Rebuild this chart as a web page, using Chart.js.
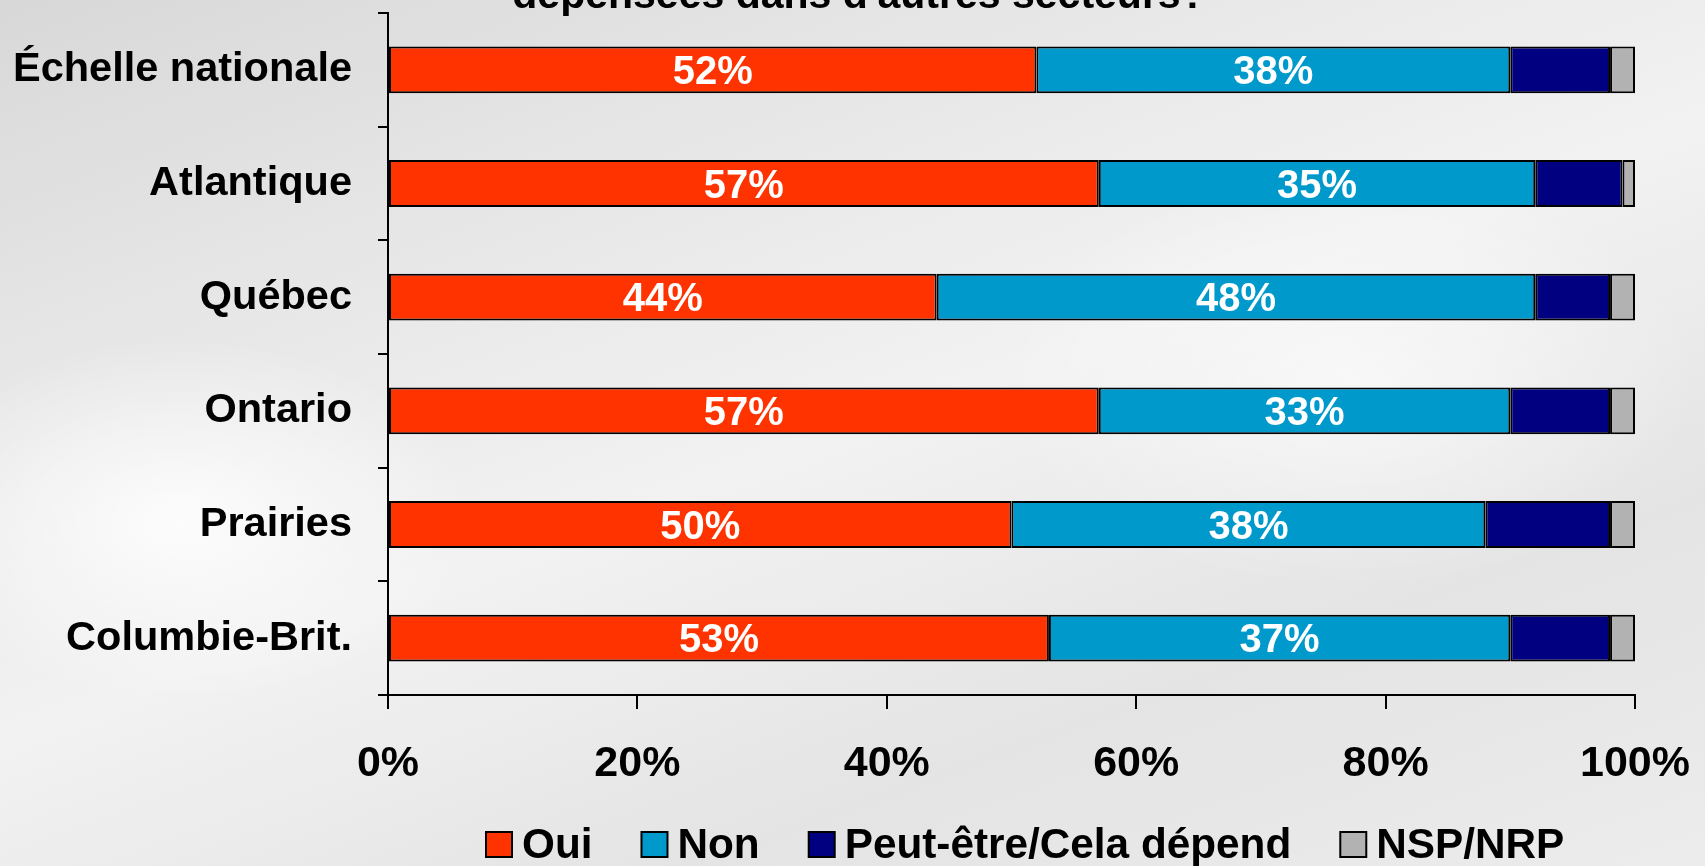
<!DOCTYPE html>
<html>
<head>
<meta charset="utf-8">
<script src="https://cdn.jsdelivr.net/npm/chart.js@4"></script>
<style>
  html, body { margin: 0; padding: 0; }
  body {
    width: 1705px; height: 866px; overflow: hidden;
    background:
      radial-gradient(ellipse 420px 260px at 180px 520px, rgba(255,255,255,0.85), rgba(255,255,255,0) 70%),
      radial-gradient(ellipse 500px 300px at 1350px 380px, rgba(255,255,255,0.6), rgba(255,255,255,0) 70%),
      linear-gradient(160deg, #d8d8d8 0%, #e6e6e6 25%, #f2f2f2 50%, #e4e4e4 75%, #ececec 100%);
  }
  canvas { display: block; }
</style>
</head>
<body>
<canvas id="c" width="1705" height="866"></canvas>
<script>
const categories = ['Échelle nationale', 'Atlantique', 'Québec', 'Ontario', 'Prairies', 'Columbie-Brit.'];
const seriesNames = ['Oui', 'Non', 'Peut-être/Cela dépend', 'NSP/NRP'];
const oui  = [52, 57, 44, 57, 50, 53];
const non  = [38, 35, 48, 33, 38, 37];
const peut = [8, 7, 6, 8, 10, 8];
const nsp  = [2, 1, 2, 2, 2, 2];
const xTickValues = [0, 20, 40, 60, 80, 100];
const seriesColors = ['#FF3300', '#0099CC', '#000080', '#B2B2B2'];
const labeledSeries = [0, 1];
const titleText = "dépensées dans d'autres secteurs?";

const FONT = '"Liberation Sans", Arial, Helvetica, sans-serif';
const seriesValues = [oui, non, peut, nsp];

const datasets = seriesNames.map((name, i) => ({
  label: name,
  data: seriesValues[i],
  backgroundColor: seriesColors[i],
  borderColor: '#000',
  borderWidth: 2,
  borderSkipped: false,
  barPercentage: 0.412,
  categoryPercentage: 1.0
}));

const titlePlugin = {
  id: 'partialTitle',
  afterDraw(chart) {
    const ctx = chart.ctx;
    ctx.save();
    ctx.font = 'bold 41px ' + FONT;
    ctx.fillStyle = '#000';
    ctx.textAlign = 'center';
    ctx.textBaseline = 'alphabetic';
    ctx.fillText(titleText, 859, 8);
    ctx.restore();
  }
};

const valueLabelPlugin = {
  id: 'valueLabels',
  afterDatasetsDraw(chart) {
    const ctx = chart.ctx;
    const size = 40;
    ctx.save();
    ctx.font = 'bold ' + size + 'px ' + FONT;
    ctx.fillStyle = '#fff';
    ctx.textAlign = 'center';
    ctx.textBaseline = 'alphabetic';
    labeledSeries.forEach(di => {
      const meta = chart.getDatasetMeta(di);
      meta.data.forEach((bar, j) => {
        const v = chart.data.datasets[di].data[j];
        const cx = (bar.x + bar.base) / 2;
        ctx.fillText(v + '%', cx, bar.y + size * 0.358);
      });
    });
    ctx.restore();
  }
};

const legendPlugin = {
  id: 'customLegend',
  afterDraw(chart) {
    const ctx = chart.ctx;
    const size = 42.3;
    const boxW = 26, boxH = 25, gapText = 10, gapItem = 49;
    const baseline = 858;
    ctx.save();
    ctx.font = 'bold ' + size + 'px ' + FONT;
    let x = 486;
    chart.data.datasets.forEach((ds) => {
      ctx.fillStyle = ds.backgroundColor;
      ctx.fillRect(x, 832, boxW, boxH);
      ctx.strokeStyle = '#000';
      ctx.lineWidth = 2;
      ctx.strokeRect(x, 832, boxW, boxH);
      ctx.fillStyle = '#000';
      ctx.textAlign = 'left';
      ctx.textBaseline = 'alphabetic';
      const tx = x + boxW + gapText;
      ctx.fillText(ds.label, tx, baseline);
      x = tx + ctx.measureText(ds.label).width + gapItem;
    });
    ctx.restore();
  }
};

new Chart(document.getElementById('c'), {
  type: 'bar',
  data: { labels: categories, datasets },
  options: {
    indexAxis: 'y',
    responsive: false,
    maintainAspectRatio: false,
    animation: false,
    layout: { padding: { top: 13, right: 70, bottom: 0, left: 0 } },
    plugins: {
      legend: { display: false },
      tooltip: { enabled: false },
      title: { display: false }
    },
    scales: {
      x: {
        stacked: true,
        min: 0,
        max: 100,
        afterBuildTicks(scale) {
          scale.ticks = xTickValues.map(v => ({ value: v }));
        },
        afterFit(scale) {
          scale.height = 171;
          scale.paddingLeft = 0;
          scale.paddingRight = 0;
        },
        ticks: {
          callback: v => v + '%',
          color: '#000',
          font: { family: FONT, size: 43, weight: 'bold' },
          padding: 29,
          maxRotation: 0
        },
        grid: {
          drawOnChartArea: false,
          drawTicks: true,
          tickLength: 14,
          color: '#000',
          lineWidth: 2
        },
        border: { display: true, color: '#000', width: 2 }
      },
      y: {
        stacked: true,
        afterFit(scale) {
          scale.width = 388;
          scale.paddingTop = 0;
          scale.paddingBottom = 0;
        },
        ticks: {
          color: '#000',
          font: { family: FONT, size: 41.5, weight: 'bold' },
          padding: 26
        },
        grid: {
          offset: true,
          drawOnChartArea: false,
          drawTicks: true,
          tickLength: 10,
          color: '#000',
          lineWidth: 2
        },
        border: { display: true, color: '#000', width: 2 }
      }
    }
  },
  plugins: [titlePlugin, valueLabelPlugin, legendPlugin]
});
</script>
</body>
</html>
